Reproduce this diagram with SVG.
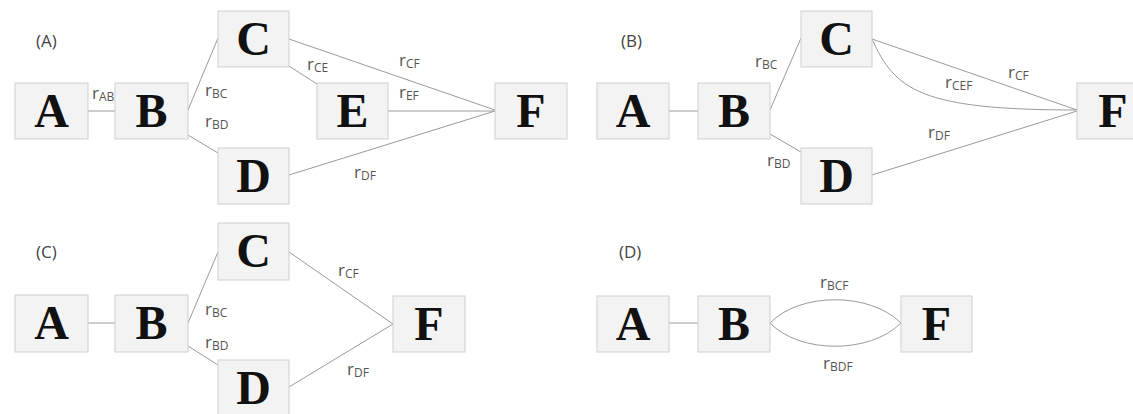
<svg xmlns="http://www.w3.org/2000/svg" width="1133" height="414" viewBox="0 0 1133 414">
  <style>
    .box { fill: #f3f3f3; stroke: #cfcfcf; stroke-width: 1; }
    .letter { font-family: "Liberation Serif", "Times New Roman", serif; font-weight: bold; font-size: 48px; fill: #111; text-anchor: middle; }
    .edge { fill: none; stroke: #9a9a9a; stroke-width: 1; }
    .lbl { font-family: "Open Sans", "Liberation Sans", sans-serif; font-size: 17px; fill: #555; }
    .sub { font-size: 12px; }
    .title { font-family: "Open Sans", "Liberation Sans", sans-serif; font-size: 17px; fill: #444; }
  </style>
  <rect width="1133" height="414" fill="#ffffff"/>

  <!-- panel titles -->
  <g id="titles">
    <text class="title" x="36" y="47">(A)</text>
    <text class="title" x="621" y="47">(B)</text>
    <text class="title" x="36" y="258">(C)</text>
    <text class="title" x="619" y="258">(D)</text>
  </g>

  <!-- connectors -->
  <g id="connectors">
    <!-- (A) -->
    <line class="edge" x1="88" y1="111" x2="115" y2="111"/>
    <line class="edge" x1="188" y1="110" x2="218" y2="38"/>
    <line class="edge" x1="188" y1="135" x2="218" y2="153"/>
    <line class="edge" x1="289" y1="39" x2="495" y2="110"/>
    <line class="edge" x1="289" y1="66" x2="317" y2="84"/>
    <line class="edge" x1="388" y1="111" x2="495" y2="111"/>
    <line class="edge" x1="289" y1="175" x2="495" y2="111"/>
    <!-- (B) -->
    <line class="edge" x1="669" y1="111" x2="698" y2="111"/>
    <line class="edge" x1="770" y1="110" x2="801" y2="38"/>
    <line class="edge" x1="770" y1="134" x2="801" y2="152"/>
    <line class="edge" x1="872" y1="39" x2="1077" y2="110"/>
    <path class="edge" d="M872,39 C895,90 920,110 1077,110"/>
    <line class="edge" x1="872" y1="175" x2="1077" y2="111"/>
    <!-- (C) -->
    <line class="edge" x1="88" y1="323" x2="115" y2="323"/>
    <line class="edge" x1="188" y1="323" x2="218" y2="252"/>
    <line class="edge" x1="188" y1="346" x2="218" y2="365"/>
    <line class="edge" x1="289" y1="252" x2="393" y2="324"/>
    <line class="edge" x1="289" y1="387" x2="393" y2="324"/>
    <!-- (D) -->
    <line class="edge" x1="669" y1="323" x2="698" y2="323"/>
    <path class="edge" d="M770,323 C800,292 870,292 901,323"/>
    <path class="edge" d="M770,323 C800,354 870,354 901,323"/>
  </g>

  <!-- connector labels -->
  <g id="labels">
    <text class="lbl" x="92" y="99">r<tspan class="sub" dy="2">AB</tspan></text>
    <text class="lbl" x="205" y="96">r<tspan class="sub" dy="2">BC</tspan></text>
    <text class="lbl" x="205" y="127">r<tspan class="sub" dy="2">BD</tspan></text>
    <text class="lbl" x="307" y="70">r<tspan class="sub" dy="2">CE</tspan></text>
    <text class="lbl" x="399" y="66">r<tspan class="sub" dy="2">CF</tspan></text>
    <text class="lbl" x="399" y="98">r<tspan class="sub" dy="2">EF</tspan></text>
    <text class="lbl" x="354" y="178">r<tspan class="sub" dy="2">DF</tspan></text>

    <text class="lbl" x="755" y="67">r<tspan class="sub" dy="2">BC</tspan></text>
    <text class="lbl" x="767" y="166">r<tspan class="sub" dy="2">BD</tspan></text>
    <text class="lbl" x="1008" y="78">r<tspan class="sub" dy="2">CF</tspan></text>
    <text class="lbl" x="945" y="88">r<tspan class="sub" dy="2">CEF</tspan></text>
    <text class="lbl" x="928" y="138">r<tspan class="sub" dy="2">DF</tspan></text>

    <text class="lbl" x="205" y="315">r<tspan class="sub" dy="2">BC</tspan></text>
    <text class="lbl" x="205" y="348">r<tspan class="sub" dy="2">BD</tspan></text>
    <text class="lbl" x="338" y="276">r<tspan class="sub" dy="2">CF</tspan></text>
    <text class="lbl" x="347" y="375">r<tspan class="sub" dy="2">DF</tspan></text>

    <text class="lbl" x="820" y="288">r<tspan class="sub" dy="2">BCF</tspan></text>
    <text class="lbl" x="823" y="369">r<tspan class="sub" dy="2">BDF</tspan></text>
  </g>

  <!-- (A) nodes -->
  <g id="a-A"><rect class="box" x="15" y="83" width="73" height="56"/><text class="letter" x="51.5" y="127">A</text></g>
  <g id="a-B"><rect class="box" x="115" y="83" width="73" height="56"/><text class="letter" x="151.5" y="127">B</text></g>
  <g id="a-C"><rect class="box" x="218" y="11" width="71" height="56"/><text class="letter" x="253.5" y="55">C</text></g>
  <g id="a-D"><rect class="box" x="218" y="148" width="71" height="56"/><text class="letter" x="253.5" y="192">D</text></g>
  <g id="a-E"><rect class="box" x="317" y="83" width="71" height="56"/><text class="letter" x="352.5" y="127">E</text></g>
  <g id="a-F"><rect class="box" x="495" y="83" width="72" height="56"/><text class="letter" x="531" y="127">F</text></g>

  <!-- (B) nodes -->
  <g id="b-A"><rect class="box" x="597" y="83" width="72" height="56"/><text class="letter" x="633" y="127">A</text></g>
  <g id="b-B"><rect class="box" x="698" y="83" width="72" height="56"/><text class="letter" x="734" y="127">B</text></g>
  <g id="b-C"><rect class="box" x="801" y="11" width="71" height="56"/><text class="letter" x="836.5" y="55">C</text></g>
  <g id="b-D"><rect class="box" x="801" y="148" width="71" height="56"/><text class="letter" x="836.5" y="192">D</text></g>
  <g id="b-F"><rect class="box" x="1077" y="83" width="72" height="56"/><text class="letter" x="1113" y="127">F</text></g>

  <!-- (C) nodes -->
  <g id="c-A"><rect class="box" x="15" y="295" width="73" height="57"/><text class="letter" x="51.5" y="339">A</text></g>
  <g id="c-B"><rect class="box" x="115" y="295" width="73" height="57"/><text class="letter" x="151.5" y="339">B</text></g>
  <g id="c-C"><rect class="box" x="218" y="223" width="71" height="57"/><text class="letter" x="253.5" y="267">C</text></g>
  <g id="c-D"><rect class="box" x="218" y="360" width="71" height="57"/><text class="letter" x="253.5" y="404">D</text></g>
  <g id="c-F"><rect class="box" x="393" y="296" width="72" height="56"/><text class="letter" x="429" y="340">F</text></g>

  <!-- (D) nodes -->
  <g id="d-A"><rect class="box" x="597" y="296" width="72" height="56"/><text class="letter" x="633" y="340">A</text></g>
  <g id="d-B"><rect class="box" x="698" y="296" width="72" height="56"/><text class="letter" x="734" y="340">B</text></g>
  <g id="d-F"><rect class="box" x="901" y="296" width="71" height="56"/><text class="letter" x="936.5" y="340">F</text></g>
</svg>
